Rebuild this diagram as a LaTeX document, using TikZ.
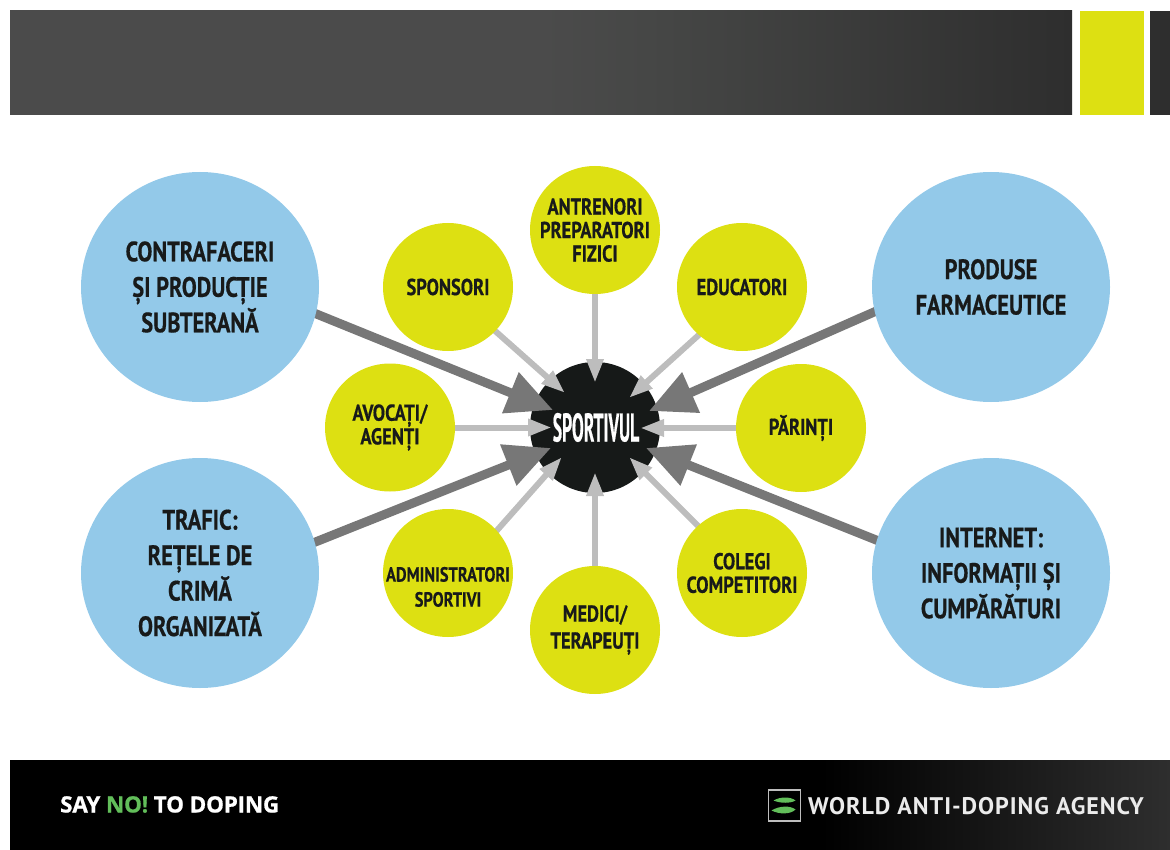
\documentclass[tikz,border=0pt]{standalone}
\usepackage{fontspec}
\usetikzlibrary{arrows.meta,shapes.geometric,calc}
\newfontfamily\cbold[FakeStretch=0.80,FakeBold=0.5]{PT Sans}
\newfontfamily\cnarrow[FakeStretch=0.44,FakeBold=0.4]{PT Sans}
\newfontfamily\footfont[FakeBold=0.8,LetterSpace=-1]{Open Sans}
\newfontfamily\wadafont[LetterSpace=4]{PT Sans}
\definecolor{bluec}{HTML}{93C9E9}
\definecolor{yellowc}{HTML}{DDE012}
\definecolor{corec}{HTML}{161918}
\definecolor{darka}{HTML}{777777}
\definecolor{lighta}{HTML}{BDBDBD}
\definecolor{inkc}{HTML}{181A1A}
\definecolor{greenlogo}{HTML}{62BE5A}
\definecolor{hdra}{HTML}{4B4B4B}
\definecolor{hdrb}{HTML}{464746}
\definecolor{hdrc}{HTML}{2E2E2E}
\pgfdeclarehorizontalshading{hdrshade}{100bp}{color(0bp)=(hdra); color(25bp)=(hdra); color(50bp)=(hdra); color(55bp)=(hdrb); color(75bp)=(hdrc); color(100bp)=(hdrc)}
\pgfdeclarehorizontalshading{footshade}{100bp}{color(0bp)=(black); color(25bp)=(black); color(60bp)=(black); color(75bp)=(hdrc); color(100bp)=(hdrc)}
\pgfdeclarelayer{back}
\pgfdeclarelayer{mid}
\pgfsetlayers{back,mid,main}
\tikzset{
  bigc/.style={ellipse,fill=bluec,minimum width=238pt,minimum height=230pt,inner sep=0pt,outer sep=0pt},
  smallc/.style={ellipse,fill=yellowc,minimum width=130pt,minimum height=128pt,inner sep=0pt,outer sep=0pt},
  corenode/.style={ellipse,fill=corec,minimum width=130pt,minimum height=131pt,inner sep=0pt,outer sep=0pt},
  bigt/.style={align=center,inner sep=0pt,text=inkc,font=\fontsize{28}{35.5}\selectfont\cbold\bfseries},
  smallt/.style={align=center,inner sep=0pt,text=inkc,font=\fontsize{23}{23.5}\selectfont\cbold\bfseries},
  heavy/.style={draw=darka,line width=9pt,shorten <=-5pt,-{Triangle[length=46pt,width=42pt]},darka},
  lightarrow/.style={draw=lighta,line width=6pt,shorten <=-5pt,-{Triangle[length=24pt,width=16pt]},lighta},
}
\begin{document}
\begin{tikzpicture}[x=1pt,y=-1pt]
\useasboundingbox (0,0) rectangle (1170,850);
% core
\begin{pgfonlayer}{back}
\node[corenode] (core) at (595,427.5) {};
\end{pgfonlayer}
\node[inner sep=0pt,text=white,font=\fontsize{40}{44}\selectfont\cnarrow\bfseries] (coretext) at (596,427.5) {SPORTIVUL};
% header
\begin{scope}
\clip (10,11) rectangle (1072,115);
\shade[shading=hdrshade] (10,11) rectangle (1072,115);
\end{scope}
\fill[yellowc] (1080,11) rectangle (1144,115);
\fill[hdrc] (1150,11) rectangle (1170,115);
% footer
\begin{scope}
\clip (10,760) rectangle (1170,850);
\shade[shading=footshade] (10,760) rectangle (1170,850);
\end{scope}
\node[anchor=base west,inner sep=0pt,text=white,font=\fontsize{22.5}{24}\selectfont\footfont\bfseries] (say) at (60,812.5) {SAY \textcolor{greenlogo}{NO!} TO DOPING};
\node[anchor=base west,inner sep=0pt,text={rgb,255:red,235;green,235;blue,235},font=\fontsize{24}{26}\selectfont\wadafont\bfseries] (wada) at (808,814) {WORLD ANTI-DOPING AGENCY};
\node[draw={rgb,255:red,190;green,190;blue,190},line width=1.3pt,minimum width=32pt,minimum height=31pt,inner sep=0pt] (logo) at (784.5,805.5) {};
\fill[greenlogo] ($(logo.center)+(-11,-5)$) .. controls ($(logo.center)+(-4,-9)$) and ($(logo.center)+(6,-9)$) .. ($(logo.center)+(11,-5)$) .. controls ($(logo.center)+(6,-2)$) and ($(logo.center)+(-4,-2)$) .. cycle;
\fill[greenlogo] ($(logo.center)+(-13,5)$) .. controls ($(logo.center)+(-5,0)$) and ($(logo.center)+(6,0)$) .. ($(logo.center)+(11,4)$) .. controls ($(logo.center)+(6,9)$) and ($(logo.center)+(-5,9)$) .. cycle;
% outer circles
\node[bigc,label={[bigt,name=t1]center:{CONTRAFACERI\\ȘI PRODUCȚIE\\SUBTERANĂ}}] (contra) at (200,287) {};
\node[bigc,label={[bigt,name=t2]center:{PRODUSE\\FARMACEUTICE}}] (pharma) at (991,287) {};
\node[bigc,label={[bigt,name=t3]center:{TRAFIC:\\REȚELE DE\\CRIMĂ\\ORGANIZATĂ}}] (trafic) at (200,573) {};
\node[bigc,label={[bigt,name=t4]center:{INTERNET:\\INFORMAȚII ȘI\\CUMPĂRĂTURI}}] (internet) at (991,573) {};
% small circles
\node[smallc,label={[smallt,name=t5]center:{ANTRENORI\\PREPARATORI\\FIZICI}}] (antren) at (595,230) {};
\node[smallc,label={[smallt,name=t6]center:{SPONSORI}}] (spons) at (448,287) {};
\node[smallc,label={[smallt,name=t7]center:{EDUCATORI}}] (educ) at (742,287) {};
\node[smallc,label={[smallt,name=t8,font=\fontsize{23}{20.5}\selectfont\cbold\bfseries]center:{AVOCAȚI/\\AGENȚI}}] (avoc) at (390,427.5) {};
\node[smallc,label={[smallt,name=t9]center:{PĂRINȚI}}] (parinti) at (801,428) {};
\node[smallc,label={[smallt,name=t10,font=\fontsize{20.5}{25}\selectfont\cbold\bfseries]center:{\strut\\ADMINISTRATORI\\SPORTIVI}}] (admin) at (448,573) {};
\node[smallc,label={[smallt,name=t11]center:{COLEGI\\COMPETITORI}}] (colegi) at (742,573) {};
\node[smallc,label={[smallt,name=t12,font=\fontsize{23}{27}\selectfont\cbold\bfseries]center:{MEDICI/\\TERAPEUȚI}}] (medici) at (595,630) {};
% arrow tips
\coordinate (tipcontra) at (553,410);
\coordinate (tippharma) at (649,411);
\coordinate (tiptrafic) at (551,448);
\coordinate (tipinternet) at (646,448);
\coordinate (tipantren) at (595,383);
\coordinate (tipspons) at (565,393);
\coordinate (tipeduc) at (629,398);
\coordinate (tipavoc) at (552,427.5);
\coordinate (tipparinti) at (640,428);
\coordinate (tipadmin) at (562,457);
\coordinate (tipcolegi) at (629,457);
\coordinate (tipmedici) at (595,472);
\begin{pgfonlayer}{mid}
\draw[heavy] (contra.-13.5) -- (tipcontra);
\draw[heavy] (pharma.192.6) -- (tippharma);
\draw[heavy] (trafic.15.1) -- (tiptrafic);
\draw[heavy] (internet.164.9) -- (tipinternet);
\draw[lightarrow] (antren.south) -- (tipantren);
\draw[lightarrow] (spons.-43.7) -- (tipspons);
\draw[lightarrow] (educ.228) -- (tipeduc);
\draw[lightarrow] (avoc.east) -- (tipavoc);
\draw[lightarrow] (parinti.west) -- (tipparinti);
\draw[lightarrow] (admin.41.9) -- (tipadmin);
\draw[lightarrow] (colegi.133) -- (tipcolegi);
\draw[lightarrow] (medici.north) -- (tipmedici);
\end{pgfonlayer}
\end{tikzpicture}
\end{document}
